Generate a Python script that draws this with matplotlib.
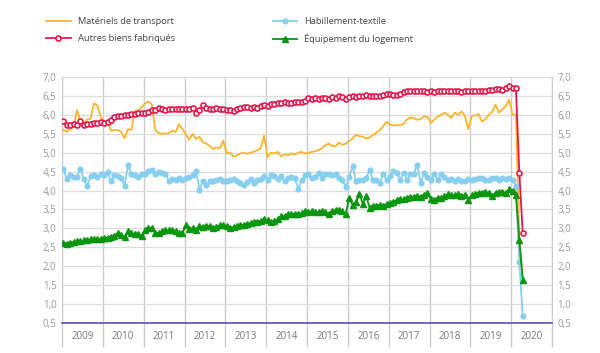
import numpy as np
from matplotlib import pyplot as plt
from matplotlib.ticker import FixedLocator, FuncFormatter

plt.rcParams['font.family'] = ['Open Sans', 'DejaVu Sans']

# monthly values, Jan 2009 -> Apr 2020
years = ['2009', '2010', '2011', '2012', '2013', '2014', '2015', '2016', '2017', '2018', '2019', '2020']

transport = [
    5.60, 5.55, 5.62, 5.68, 6.12, 5.85, 5.75, 5.88, 5.90, 6.30, 6.25, 5.95,
    5.80, 5.85, 5.58, 5.60, 5.60, 5.55, 5.38, 5.62, 5.60, 6.10, 6.12, 6.20,
    6.30, 6.35, 6.28, 5.60, 5.52, 5.50, 5.50, 5.52, 5.58, 5.55, 5.75, 5.62,
    5.48, 5.34, 5.50, 5.36, 5.42, 5.28, 5.24, 5.18, 5.10, 5.14, 5.12, 5.32,
    4.98, 5.00, 4.90, 4.93, 4.98, 5.00, 4.97, 5.00, 5.03, 5.06, 5.12, 5.45,
    4.88, 5.00, 4.98, 5.02, 4.90, 4.96, 4.93, 4.98, 4.95, 5.00, 5.02, 4.98,
    4.99, 5.02, 5.04, 5.07, 5.12, 5.20, 5.24, 5.18, 5.17, 5.27, 5.21, 5.24,
    5.30, 5.38, 5.47, 5.44, 5.42, 5.38, 5.40, 5.47, 5.53, 5.60, 5.70, 5.82,
    5.74, 5.72, 5.73, 5.73, 5.76, 5.88, 5.93, 5.91, 5.87, 5.89, 5.96, 5.95,
    5.78, 5.88, 5.95, 6.00, 6.06, 6.00, 5.92, 6.06, 6.00, 6.09, 5.98, 5.62,
    5.97, 5.98, 6.02, 5.82, 5.88, 6.00, 6.08, 6.27, 6.06, 6.15, 6.22, 6.40,
    6.00, 6.00, 2.75, 1.70]

autres = [
    5.85, 5.73, 5.73, 5.75, 5.74, 5.84, 5.73, 5.75, 5.77, 5.78, 5.78, 5.82,
    5.78, 5.80, 5.87, 5.93, 5.96, 5.97, 5.99, 6.00, 6.02, 6.02, 6.04, 6.06,
    6.05, 6.08, 6.12, 6.14, 6.18, 6.15, 6.13, 6.15, 6.15, 6.15, 6.15, 6.15,
    6.15, 6.15, 6.19, 6.06, 6.12, 6.25, 6.17, 6.15, 6.15, 6.17, 6.15, 6.15,
    6.14, 6.14, 6.11, 6.15, 6.19, 6.22, 6.20, 6.19, 6.20, 6.19, 6.23, 6.27,
    6.24, 6.28, 6.28, 6.30, 6.32, 6.33, 6.31, 6.32, 6.33, 6.35, 6.35, 6.36,
    6.44, 6.43, 6.44, 6.43, 6.45, 6.45, 6.43, 6.47, 6.45, 6.50, 6.47, 6.42,
    6.47, 6.49, 6.47, 6.49, 6.50, 6.52, 6.50, 6.50, 6.49, 6.50, 6.52, 6.55,
    6.56, 6.52, 6.53, 6.56, 6.60, 6.62, 6.64, 6.62, 6.62, 6.64, 6.62, 6.60,
    6.62, 6.61, 6.62, 6.62, 6.62, 6.62, 6.62, 6.63, 6.62, 6.60, 6.62, 6.64,
    6.64, 6.64, 6.64, 6.62, 6.64, 6.66, 6.66, 6.67, 6.67, 6.66, 6.70, 6.75,
    6.71, 6.71, 4.47, 2.88]

habillement = [
    4.58, 4.30, 4.42, 4.36, 4.36, 4.58, 4.30, 4.12, 4.38, 4.42, 4.35, 4.45,
    4.40, 4.48, 4.25, 4.42, 4.38, 4.32, 4.12, 4.68, 4.43, 4.42, 4.35, 4.45,
    4.44, 4.52, 4.54, 4.44, 4.50, 4.46, 4.43, 4.26, 4.30, 4.28, 4.33, 4.28,
    4.33, 4.36, 4.40, 4.52, 4.02, 4.26, 4.14, 4.26, 4.25, 4.28, 4.30, 4.25,
    4.26, 4.28, 4.30, 4.24, 4.19, 4.14, 4.22, 4.30, 4.20, 4.27, 4.30, 4.38,
    4.27, 4.40, 4.38, 4.31, 4.38, 4.26, 4.33, 4.36, 4.32, 4.05, 4.27, 4.40,
    4.45, 4.33, 4.36, 4.47, 4.32, 4.45, 4.45, 4.41, 4.45, 4.32, 4.28, 4.10,
    4.36, 4.65, 4.25, 4.27, 4.27, 4.33, 4.54, 4.27, 4.29, 4.19, 4.45, 4.27,
    4.38, 4.52, 4.47, 4.29, 4.47, 4.28, 4.45, 4.45, 4.67, 4.19, 4.47, 4.36,
    4.28, 4.44, 4.28, 4.44, 4.36, 4.28, 4.30, 4.26, 4.30, 4.26, 4.26, 4.30,
    4.28, 4.30, 4.33, 4.32, 4.27, 4.28, 4.33, 4.34, 4.28, 4.33, 4.30, 4.32,
    4.28, 4.12, 2.10, 0.68]

logement = [
    2.62, 2.60, 2.62, 2.64, 2.66, 2.66, 2.68, 2.70, 2.71, 2.71, 2.71, 2.72,
    2.75, 2.75, 2.77, 2.79, 2.88, 2.82, 2.77, 2.92, 2.88, 2.85, 2.85, 2.81,
    2.95, 3.01, 3.01, 2.88, 2.88, 2.92, 2.95, 2.95, 2.95, 2.92, 2.88, 2.88,
    3.08, 2.99, 3.01, 2.97, 3.06, 3.04, 3.06, 3.06, 3.02, 3.04, 3.08, 3.08,
    3.06, 3.02, 3.03, 3.05, 3.08, 3.10, 3.12, 3.14, 3.17, 3.18, 3.20, 3.24,
    3.22, 3.17, 3.20, 3.25, 3.32, 3.32, 3.37, 3.38, 3.38, 3.38, 3.40, 3.45,
    3.43, 3.45, 3.43, 3.43, 3.45, 3.42, 3.39, 3.45, 3.48, 3.48, 3.45, 3.39,
    3.80, 3.62, 3.70, 3.92, 3.65, 3.85, 3.55, 3.60, 3.60, 3.62, 3.58, 3.65,
    3.66, 3.70, 3.74, 3.77, 3.77, 3.79, 3.82, 3.84, 3.85, 3.84, 3.88, 3.94,
    3.78, 3.76, 3.81, 3.79, 3.85, 3.90, 3.88, 3.88, 3.92, 3.86, 3.88, 3.76,
    3.88, 3.92, 3.94, 3.94, 3.96, 3.94, 3.85, 3.94, 3.96, 3.96, 3.94, 4.03,
    3.98, 3.88, 2.68, 1.63]

months = np.arange(len(autres)) + 0.4

fig = plt.figure()
fig.set_size_inches(6, 3.53)
ax = fig.add_axes([62/600, 1-323/353, 490/600, 246/353])

c_orange = '#fdb42a'
c_red = '#e8174b'
c_blue = '#86cfee'
c_green = '#0a960f'

l1, = ax.plot(months, transport, color=c_orange, lw=1.3, zorder=3)
l3, = ax.plot(months, habillement, color=c_blue, lw=1.3, marker='o', ms=3.4, zorder=3)
l4, = ax.plot(months, logement, color=c_green, lw=1.3, marker='^', ms=3.8, zorder=4)
l2, = ax.plot(months, autres, color=c_red, lw=1.3, marker='o', ms=3.6, mfc='white', mew=1.2, zorder=5)

ax.set_xlim(0, 144)
ax.set_ylim(0.5, 7.0)

yt = np.arange(0.5, 7.01, 0.5)
ax.set_yticks(yt)
ax.yaxis.set_major_formatter(FuncFormatter(lambda v, p: ('%.1f' % v).replace('.', ',')))
ax.tick_params(axis='y', length=0, labelsize=7, labelcolor='#9a9a9a', pad=4,
               right=True, labelright=True)

ax.xaxis.set_major_locator(FixedLocator(np.arange(6, 144, 12)))
ax.set_xticklabels(years)
ax.xaxis.set_minor_locator(FixedLocator(np.arange(0, 145, 12)))
ax.tick_params(axis='x', which='major', length=0, labelsize=7, labelcolor='#777777', pad=6)
ax.tick_params(axis='x', which='minor', length=17, color='#cccccc', width=1)

ax.grid(axis='y', color='#dcdcdc', lw=0.9)
ax.grid(axis='x', which='minor', color='#cccccc', lw=1)
ax.set_axisbelow(True)

ax.spines['top'].set_visible(False)
ax.spines['left'].set_color('#cccccc')
ax.spines['right'].set_color('#cccccc')
ax.spines['bottom'].set_color('#5a50b4')
ax.spines['bottom'].set_linewidth(1.2)
ax.spines['bottom'].set_zorder(6)

fig.legend([l1, l2, l3, l4],
           ['Matériels de transport', 'Autres biens fabriqués',
            'Habillement-textile', 'Équipement du logement'],
           ncol=2, loc='upper left', bbox_to_anchor=(38/600, 1-9/353),
           frameon=False, fontsize=6.7, labelcolor='#444444',
           handlelength=2.6, handletextpad=0.75, columnspacing=10.6,
           labelspacing=0.8)

fig.savefig('out.png', dpi=100)
